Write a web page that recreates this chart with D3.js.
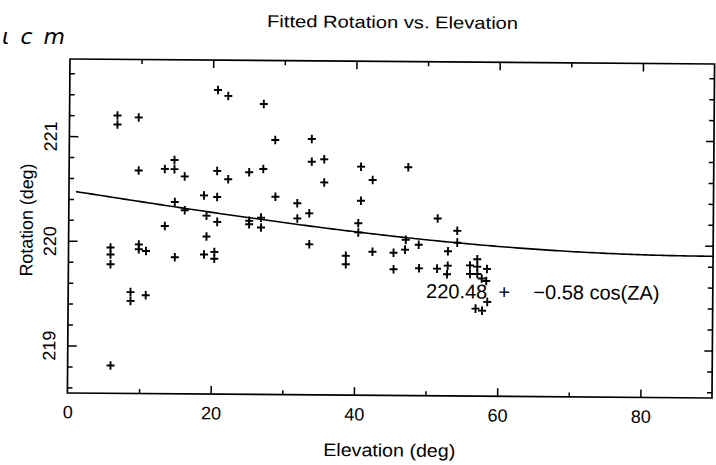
<!DOCTYPE html>
<html>
<head>
<meta charset="utf-8">
<script src="https://cdn.jsdelivr.net/npm/d3@7"></script>
<style>
  html, body { margin: 0; padding: 0; background: #fff; }
  svg { display: block; }
  text { font-family: "Liberation Sans", Arial, Helvetica, sans-serif; fill: #000; }
</style>
</head>
<body>
<svg id="chart" width="716" height="465"></svg>
<script>
// Observed rotation angle of each source versus its elevation
const elevation = [
  6.69, 6.70, 9.66, 9.71, 13.36, 14.71, 14.70, 14.79, 13.42, 5.86,
  5.87, 5.88, 9.81, 9.81, 10.82, 14.85, 8.70, 8.71, 10.83, 5.99,
  20.70, 22.14, 27.11, 28.75, 20.67, 16.14, 22.22, 25.14, 27.11, 18.86,
  20.70, 28.83, 31.89, 16.19, 19.23, 20.73, 25.19, 25.19, 26.84, 26.85,
  31.91, 19.25, 18.92, 20.36, 20.36, 33.85, 33.87, 35.61, 40.75, 47.35,
  35.63, 42.39, 33.58, 40.78, 40.43, 40.44, 33.61, 47.08, 46.98, 38.72,
  38.73, 42.44, 45.38, 45.40, 51.51, 54.26, 54.27, 48.89, 52.98, 48.96,
  51.47, 52.96, 52.87, 57.08, 56.07, 57.09, 58.44, 56.08, 57.10, 57.72,
  58.36, 58.52, 56.89, 57.80
];
const rotation = [
  221.200, 221.114, 221.183, 220.676, 220.693, 220.692, 220.779, 220.378, 220.148, 219.939,
  219.872, 219.779, 219.970, 219.924, 219.908, 219.850, 219.514, 219.430, 219.485, 218.812,
  221.451, 221.395, 221.321, 220.978, 220.678, 220.623, 220.599, 220.668, 220.700, 220.443,
  220.429, 220.436, 220.375, 220.300, 220.250, 220.191, 220.204, 220.171, 220.235, 220.141,
  220.230, 220.051, 219.879, 219.904, 219.839, 220.990, 220.773, 220.797, 220.729, 220.727,
  220.576, 220.603, 220.280, 220.404, 220.189, 220.101, 219.984, 220.034, 219.940, 219.877,
  219.796, 219.918, 219.910, 219.752, 220.240, 220.124, 220.011, 219.988, 219.928, 219.763,
  219.761, 219.790, 219.708, 219.854, 219.794, 219.783, 219.762, 219.713, 219.713, 219.670,
  219.647, 219.447, 219.382, 219.363
];

// Fitted model: rotation = fitOffset + fitCoef * cos(ZA), ZA = 90 - elevation
const fitOffset = 220.48;
const fitCoef = -0.58;
const fitRange = [1, 90];

const xMajorTicks = [20, 40, 60, 80];
const xLabelTicks = [0, 20, 40, 60, 80];
const xMinorTicks = [10, 30, 50, 70];
const yMajorTicks = [219, 220, 221];
const yMinorTicks = [218.6, 218.8, 219.2, 219.4, 219.6, 219.8, 220.2, 220.4, 220.6, 220.8, 221.2, 221.4, 221.6];

const titleText = "Fitted Rotation vs. Elevation";
const xTitle = "Elevation (deg)";
const yTitle = "Rotation (deg)";
const noteText = "ι c m";

const M = { left: 70, top: 59, right: 714.6, bottom: 393 };

const svg = d3.select("#chart");

// handwritten note in the upper left corner
svg.append("text")
  .attr("x", 2).attr("y", 44)
  .style("font-family", "'DejaVu Sans', sans-serif")
  .style("font-style", "oblique")
  .style("font-size", "22px")
  .style("font-weight", "200")
  .style("letter-spacing", "2px")
  .text(noteText);

// the whole sheet sits at a slight tilt
const root = svg.append("g").attr("transform", `rotate(0.446, ${M.left}, ${M.top})`);

const x = d3.scaleLinear().domain([0, 90]).range([M.left, M.right]);
const y = d3.scaleLinear().domain([218.546, 221.736]).range([M.bottom, M.top]);

const W = M.right - M.left, H = M.bottom - M.top;

function styleAxis(g) {
  g.select(".domain").remove();
  g.selectAll(".tick line").attr("stroke", "#000").attr("stroke-width", 1.5);
}

// bottom axis: labels and inward ticks
root.append("g")
  .attr("transform", `translate(0,${M.bottom})`)
  .call(d3.axisBottom(x).tickValues(xLabelTicks).tickSizeInner(-8).tickSizeOuter(0).tickFormat(d3.format("d")))
  .call(styleAxis)
  .call(g => g.selectAll(".tick").filter(d => d === 0).select("line").remove())
  .call(g => g.selectAll(".tick text")
    .attr("y", 25.3).attr("dy", 0)
    .style("font-size", "18px"));

root.append("g")
  .attr("transform", `translate(0,${M.bottom})`)
  .call(d3.axisBottom(x).tickValues(xMinorTicks).tickSizeInner(-4.5).tickSizeOuter(0).tickFormat(""))
  .call(styleAxis);

// top axis ticks
root.append("g")
  .attr("transform", `translate(0,${M.top})`)
  .call(d3.axisTop(x).tickValues(xMajorTicks).tickSizeInner(-8).tickSizeOuter(0).tickFormat(""))
  .call(styleAxis);
root.append("g")
  .attr("transform", `translate(0,${M.top})`)
  .call(d3.axisTop(x).tickValues(xMinorTicks).tickSizeInner(-4.5).tickSizeOuter(0).tickFormat(""))
  .call(styleAxis);

// left axis: rotated labels
root.append("g")
  .attr("transform", `translate(${M.left},0)`)
  .call(d3.axisLeft(y).tickValues(yMajorTicks).tickSizeInner(-9).tickSizeOuter(0).tickFormat(d3.format("d")))
  .call(styleAxis)
  .call(g => g.selectAll(".tick text")
    .attr("transform", "rotate(-90)")
    .attr("x", 0).attr("y", -12.5).attr("dy", 0)
    .attr("text-anchor", "middle")
    .style("font-size", "18px"));
root.append("g")
  .attr("transform", `translate(${M.left},0)`)
  .call(d3.axisLeft(y).tickValues(yMinorTicks).tickSizeInner(-5).tickSizeOuter(0).tickFormat(""))
  .call(styleAxis);

// right axis ticks
root.append("g")
  .attr("transform", `translate(${M.right},0)`)
  .call(d3.axisRight(y).tickValues(yMajorTicks).tickSizeInner(-8).tickSizeOuter(0).tickFormat(""))
  .call(styleAxis);
root.append("g")
  .attr("transform", `translate(${M.right},0)`)
  .call(d3.axisRight(y).tickValues(yMinorTicks).tickSizeInner(-5).tickSizeOuter(0).tickFormat(""))
  .call(styleAxis);

// frame
root.append("rect")
  .attr("x", M.left).attr("y", M.top)
  .attr("width", W).attr("height", H)
  .attr("fill", "none").attr("stroke", "#000").attr("stroke-width", 1.7);

// fitted curve
const fitPts = d3.range(fitRange[0], fitRange[1] + 0.001, 0.5);
const fitLine = d3.line()
  .x(e => x(e))
  .y(e => y(fitOffset + fitCoef * Math.cos((90 - e) * Math.PI / 180)));
root.append("path")
  .datum(fitPts)
  .attr("d", fitLine)
  .attr("fill", "none").attr("stroke", "#000").attr("stroke-width", 1.6);

// observations as plus signs
const pts = elevation.map((e, i) => ({ e, r: rotation[i] }));
root.append("g").selectAll("path.obs")
  .data(pts).join("path")
  .attr("class", "obs")
  .attr("transform", d => `translate(${x(d.e)},${y(d.r)})`)
  .attr("d", "M-4,0H4M0,-4.3V4.3")
  .attr("stroke", "#000").attr("stroke-width", 1.9).attr("fill", "none");

// fit annotation
const annY = 295.3;
root.append("text").attr("x", 427.9).attr("y", annY).style("font-size", "20px").text(fitOffset.toFixed(2));
root.append("text").attr("x", 505.9).attr("y", annY).attr("text-anchor", "middle").style("font-size", "20px").text("+");
root.append("text").attr("x", 535.2).attr("y", annY).style("font-size", "20px")
  .text(`\u2212${Math.abs(fitCoef).toFixed(2)} cos(ZA)`);

// titles
root.append("text")
  .attr("x", (M.left + M.right) / 2).attr("y", 25.5)
  .attr("text-anchor", "middle")
  .style("font-size", "17px")
  .attr("textLength", 251).attr("lengthAdjust", "spacingAndGlyphs")
  .text(titleText);

root.append("text")
  .attr("x", (M.left + M.right) / 2).attr("y", 454)
  .attr("text-anchor", "middle")
  .style("font-size", "18px")
  .attr("textLength", 132).attr("lengthAdjust", "spacingAndGlyphs")
  .text(xTitle);

root.append("text")
  .attr("transform", `translate(34,220.3) rotate(-90)`)
  .attr("text-anchor", "middle")
  .style("font-size", "18px")
  .attr("textLength", 113).attr("lengthAdjust", "spacingAndGlyphs")
  .text(yTitle);
</script>
</body>
</html>
